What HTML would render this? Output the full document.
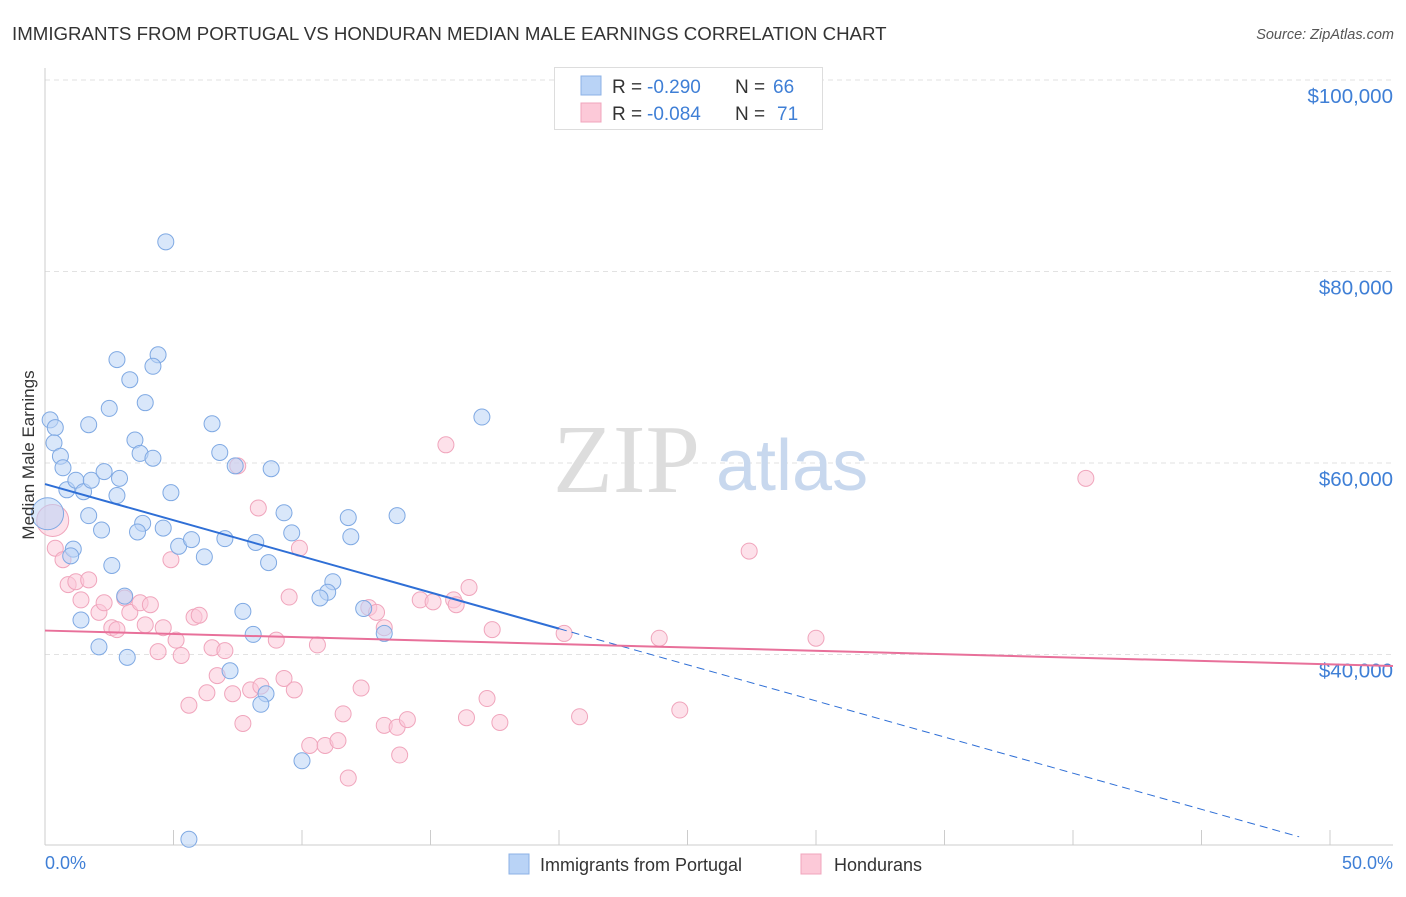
<!DOCTYPE html>
<html><head><meta charset="utf-8">
<style>
body{margin:0;background:#fff;font-family:"Liberation Sans",sans-serif;}
svg text{font-family:"Liberation Sans",sans-serif;}
</style></head>
<body>
<svg id="chart" width="1406" height="892" xmlns="http://www.w3.org/2000/svg">
<text x="12" y="40" font-size="18.7" fill="#333">IMMIGRANTS FROM PORTUGAL VS HONDURAN MEDIAN MALE EARNINGS CORRELATION CHART</text>
<text x="1394" y="39" font-size="14.5" fill="#555" text-anchor="end" font-style="italic">Source: ZipAtlas.com</text>
<g id="grid"></g>
<g>
<text x="553" y="492" font-size="98" fill="#ddd" style="font-family:'Liberation Serif',serif">ZIP</text>
<text x="716" y="490" font-size="72" fill="#c8d8ee">atlas</text>
</g>
<g id="marks"></g>
<text transform="translate(34,455) rotate(-90)" font-size="17" fill="#333" text-anchor="middle">Median Male Earnings</text>
<text x="45" y="869" font-size="18" fill="#3f7fd6">0.0%</text>
<text x="1393" y="869" font-size="18" fill="#3f7fd6" text-anchor="end">50.0%</text>
<g>
<rect x="554.5" y="67.5" width="268" height="62" fill="#fff" stroke="#ddd"/>
<rect x="581" y="76" width="20" height="19" fill="#b9d3f6" stroke="#8cb2e6"/>
<rect x="581" y="103" width="20" height="19" fill="#fcc9d8" stroke="#f0a5bc"/>
<text x="612" y="93" font-size="19" fill="#333">R =</text>
<text x="647" y="93" font-size="19" fill="#3f7fd6">-0.290</text>
<text x="735" y="93" font-size="19" fill="#333">N =</text>
<text x="773" y="93" font-size="19" fill="#3f7fd6">66</text>
<text x="612" y="120" font-size="19" fill="#333">R =</text>
<text x="647" y="120" font-size="19" fill="#3f7fd6">-0.084</text>
<text x="735" y="120" font-size="19" fill="#333">N =</text>
<text x="777" y="120" font-size="19" fill="#3f7fd6">71</text>
</g>
<g>
<rect x="509" y="854" width="20" height="20" fill="#b9d3f6" stroke="#8cb2e6"/>
<text x="540" y="871" font-size="18" fill="#333">Immigrants from Portugal</text>
<rect x="801" y="854" width="20" height="20" fill="#fcc9d8" stroke="#f0a5bc"/>
<text x="834" y="871" font-size="18" fill="#333">Hondurans</text>
</g>
</svg>
<script>
const yTicks=[100000,80000,60000,40000];
const yTickLabels=["$100,000","$80,000","$60,000","$40,000"];
const xTicks=[0,5,10,15,20,25,30,35,40,45,50];
const blueX=[0.2,0.4,0.35,0.6,0.7,0.85,1.2,1.5,1.8,2.3,2.9,2.8,1.7,2.5,2.8,3.3,3.9,3.5,3.7,4.2,4.4,4.2,4.7,4.9,1.7,2.2,3.8,4.6,3.6,5.2,5.7,6.2,7.0,8.2,1.1,1.0,2.6,8.7,6.5,6.8,7.4,8.8,9.3,9.6,11.8,11.9,13.7,17.0,3.1,1.4,2.1,3.2,7.7,8.1,7.2,11.2,11.0,10.7,12.4,13.2,8.6,8.4,10.0,5.6,0.1];
const blueY=[64500,63700,62100,60700,59500,57200,58200,57000,58200,59100,58400,56600,64000,65700,70800,68700,66300,62400,61000,60500,71300,70100,83100,56900,54500,53000,53700,53200,52800,51300,52000,50200,52100,51700,51000,50300,49300,49600,64100,61100,59700,59400,54800,52700,54300,52300,54500,64800,46100,43600,40800,39700,44500,42100,38300,47600,46500,45900,44800,42200,35900,34800,28900,20700,54700];
const pinkX=[0.3,0.4,0.7,0.9,1.2,1.7,1.4,2.1,2.3,2.6,2.8,3.1,3.3,3.7,4.1,3.9,4.4,4.6,4.9,5.1,5.3,5.8,6.0,5.6,6.3,6.7,6.5,7.0,7.3,7.7,7.5,8.3,8.0,8.4,9.0,9.3,9.5,9.7,9.9,10.6,10.3,10.9,11.4,11.6,11.8,12.3,12.6,12.9,13.2,13.2,13.7,13.8,14.1,14.6,15.1,15.9,16.0,16.5,15.6,16.4,17.2,17.4,17.7,20.2,20.8,23.9,24.7,27.4,30.0,40.5];
const pinkY=[54000,51100,49900,47300,47600,47800,45700,44400,45400,42800,42600,45900,44400,45400,45200,43100,40300,42800,49900,41500,39900,43900,44100,34700,36000,37800,40700,40400,35900,32800,59700,55300,36300,36700,41500,37500,46000,36300,51100,41000,30500,30500,31000,33800,27100,36500,44900,44400,42800,32600,32400,29500,33200,45700,45500,45700,45200,47000,61900,33400,35400,42600,32900,42200,33500,41700,34200,50800,41700,58400];
const blueTrend=[[0,57800],[20,42700],[48.8,20960]];
const pinkTrend=[[0,42500],[52.45,38800]];
const NS="http://www.w3.org/2000/svg";
const X=v=>45+v*25.7, Y=v=>80+(100000-v)/20000*191.5;
function mk(t,a,p){const e=document.createElementNS(NS,t);for(const k in a)e.setAttribute(k,a[k]);p.appendChild(e);return e;}
const grid=document.getElementById('grid'),marks=document.getElementById('marks');
yTicks.forEach((v,i)=>{
 const l=mk('line',{x1:45,x2:1393,y1:Y(v),y2:Y(v),stroke:'#e2e2e2','stroke-dasharray':'5,4'},grid);
 
 
 const t=mk('text',{x:1393,y:Y(v)+23,'font-size':20.5,fill:'#3f7fd6','text-anchor':'end'},grid);
 t.textContent=yTickLabels[i];
 
 
});
const ax=mk('line',{x1:45,x2:45,y1:68,y2:845,stroke:'#ccc'},grid);


const bx=mk('line',{x1:45,x2:1393,y1:845,y2:845,stroke:'#ccc'},grid);


xTicks.forEach(v=>{const t=mk('line',{x1:X(v),x2:X(v),y1:830,y2:845,stroke:'#ccc'},grid);
 
 });
function pts(xs,ys,fill,stroke,name){xs.forEach((x,i)=>{
 const big=(i===xs.length-1&&name==='portugal-point')||(i===0&&name==='honduran-point');
 const c=mk('circle',{cx:X(x),cy:Y(ys[i]),r:big?16:8,fill:fill,'fill-opacity':0.55,stroke:stroke,'stroke-width':1},marks);
 
 });}
pts(pinkX,pinkY,'#fcc9d8','#f0a5bc','honduran-point');
pts(blueX,blueY,'#b9d3f6','#7fa9e3','portugal-point');
const b1=mk('line',{x1:X(blueTrend[0][0]),y1:Y(blueTrend[0][1]),x2:X(blueTrend[1][0]),y2:Y(blueTrend[1][1]),stroke:'#2f6fd6','stroke-width':2},marks);


const b2=mk('line',{x1:X(blueTrend[1][0]),y1:Y(blueTrend[1][1]),x2:X(blueTrend[2][0]),y2:Y(blueTrend[2][1]),stroke:'#2f6fd6','stroke-width':1,'stroke-dasharray':'8,5'},marks);


const p1=mk('line',{x1:X(pinkTrend[0][0]),y1:Y(pinkTrend[0][1]),x2:X(pinkTrend[1][0]),y2:Y(pinkTrend[1][1]),stroke:'#e8709a','stroke-width':2},marks);


</script>
</body></html>
